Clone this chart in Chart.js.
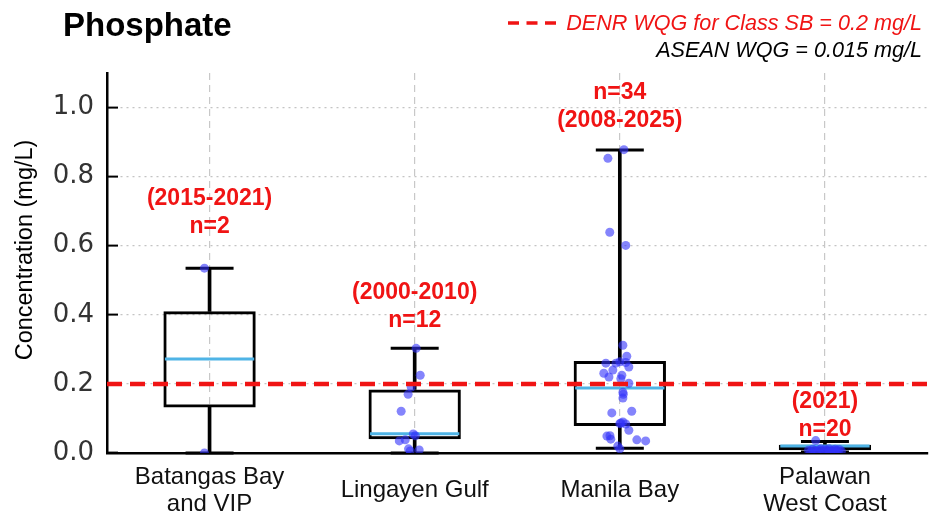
<!DOCTYPE html>
<html>
<head>
<meta charset="utf-8">
<script src="https://cdn.jsdelivr.net/npm/chart.js@4/dist/chart.umd.min.js"></script>
<style>
  html, body { margin: 0; padding: 0; background: #fff; }
  canvas { display: block; }
</style>
</head>
<body>
<canvas id="chart" width="932" height="517"></canvas>
<script>
// Sites along the x axis
const categories = [['Batangas Bay', 'and VIP'], 'Lingayen Gulf', 'Manila Bay', ['Palawan', 'West Coast']];

// Box statistics per site (mg/L)
const whiskerLow  = [0.000, 0.000, 0.014, 0.003];
const quartile1   = [0.132, 0.040, 0.078, 0.008];
const medians     = [0.272, 0.056, 0.188, 0.020];
const quartile3   = [0.410, 0.184, 0.266, 0.024];
const whiskerHigh = [0.535, 0.303, 0.877, 0.033];

// Individual observations per site and their horizontal jitter (fraction of a category)
const batangasValues = [0.535, 0.000];
const batangasJitter = [-0.025, -0.025];
const lingayenValues = [0.303, 0.225, 0.191, 0.170, 0.121, 0.055, 0.050, 0.038, 0.035, 0.012, 0.009, 0.006];
const lingayenJitter = [0.007, 0.027, -0.017, -0.032, -0.066, -0.007, 0.003, -0.046, -0.075, -0.030, 0.022, -0.022];
const manilaValues = [0.878, 0.853, 0.639, 0.601, 0.312, 0.280, 0.264, 0.260, 0.260, 0.262, 0.249, 0.240,
                      0.231, 0.225, 0.220, 0.215, 0.202, 0.176, 0.170, 0.159, 0.121, 0.116, 0.090, 0.087,
                      0.085, 0.084, 0.066, 0.050, 0.049, 0.040, 0.038, 0.035, 0.020, 0.012];
const manilaJitter = [0.020, -0.058, -0.049, 0.029, 0.015, 0.034, 0.000, -0.068, -0.019, 0.029, 0.044, -0.034,
                      -0.078, 0.010, -0.053, 0.005, 0.044, 0.015, 0.017, 0.015, 0.058, -0.039, 0.015, 0.005,
                      0.000, 0.029, 0.044, -0.048, -0.063, -0.044, 0.083, 0.126, -0.010, 0.000];
const palawanValues = [0.036, 0.012, 0.012, 0.011, 0.011, 0.010, 0.010, 0.009, 0.009, 0.008,
                       0.008, 0.007, 0.007, 0.006, 0.006, 0.005, 0.005, 0.004, 0.004, 0.003];
const palawanJitter = [-0.045, 0.020, -0.020, 0.050, -0.060, 0.000, 0.070, -0.030, 0.040, -0.080,
                       0.010, 0.060, -0.050, 0.030, -0.010, 0.080, -0.040, 0.020, 0.050, -0.070];

// Axis ticks and reference level
const yTicks = [0.0, 0.2, 0.4, 0.6, 0.8, 1.0];
const denrLimit = 0.2;

// Sample counts and sampling periods per site
const sampleCounts = ['n=2', 'n=12', 'n=34', 'n=20'];
const periods = ['(2015-2021)', '(2000-2010)', '(2008-2025)', '(2021)'];

const siteValues = [batangasValues, lingayenValues, manilaValues, palawanValues];
const siteJitter = [batangasJitter, lingayenJitter, manilaJitter, palawanJitter];
const observations = siteValues.flatMap((vals, i) => vals.map((v, k) => ({ x: i + siteJitter[i][k], y: v })));

const RED = '#f01414';
const CYAN = '#4fb4e6';

// Caps, medians, the DENR guideline and the text annotations
const boxPlotExtras = {
  id: 'boxPlotExtras',
  beforeDatasetDraw(chart, args) {
    if (args.index !== 0) return; // just before the observation dots
    const { ctx, scales: { x, y } } = chart;
    const boxMeta = chart.getDatasetMeta(1);
    ctx.save();
    ctx.lineCap = 'butt';
    // whisker caps
    ctx.strokeStyle = '#000';
    ctx.lineWidth = 3;
    categories.forEach((_, i) => {
      const cx = x.getPixelForValue(i);
      [whiskerLow[i], whiskerHigh[i]].forEach(v => {
        const py = y.getPixelForValue(v);
        ctx.beginPath();
        ctx.moveTo(cx - 24, py);
        ctx.lineTo(cx + 24, py);
        ctx.stroke();
      });
    });
    // medians
    ctx.strokeStyle = CYAN;
    ctx.lineWidth = 3;
    categories.forEach((_, i) => {
      const el = boxMeta.data[i];
      const half = el.width / 2 - 1.5;
      const cx = el.x;
      const py = y.getPixelForValue(medians[i]);
      ctx.beginPath();
      ctx.moveTo(cx - half, py);
      ctx.lineTo(cx + half, py);
      ctx.stroke();
    });
    ctx.restore();
  },
  afterDatasetsDraw(chart) {
    const { ctx, chartArea, scales: { x, y } } = chart;
    ctx.save();
    // DENR guideline
    const gy = y.getPixelForValue(denrLimit);
    ctx.strokeStyle = RED;
    ctx.lineWidth = 4.5;
    ctx.setLineDash([15, 8]);
    ctx.beginPath();
    ctx.moveTo(chartArea.left, gy);
    ctx.lineTo(chartArea.right, gy);
    ctx.stroke();
    ctx.setLineDash([]);

    // period / sample count notes above each box
    const noteLines = [
      [periods[0], sampleCounts[0]],
      [periods[1], sampleCounts[1]],
      [sampleCounts[2], periods[2]],
      [periods[3], sampleCounts[3]]
    ];
    const noteAt = [0.735, 0.463, 1.042, 0.148];
    ctx.fillStyle = RED;
    ctx.font = 'bold 23px "Liberation Sans", Arial, sans-serif';
    ctx.textAlign = 'center';
    ctx.textBaseline = 'middle';
    noteLines.forEach((lines, i) => {
      const cx = x.getPixelForValue(i);
      const top = y.getPixelForValue(noteAt[i]);
      lines.forEach((t, k) => ctx.fillText(t, cx, top + k * 27.5));
    });
    ctx.restore();
  },
  afterDraw(chart) {
    const { ctx } = chart;
    ctx.save();
    // title
    ctx.fillStyle = '#000';
    ctx.font = 'bold 33px "Liberation Sans", Arial, sans-serif';
    ctx.textAlign = 'left';
    ctx.textBaseline = 'alphabetic';
    ctx.fillText('Phosphate', 63, 36);

    // legend block
    ctx.strokeStyle = RED;
    ctx.lineWidth = 3.5;
    ctx.setLineDash([11, 7.5]);
    ctx.beginPath();
    ctx.moveTo(508, 23);
    ctx.lineTo(556, 23);
    ctx.stroke();
    ctx.setLineDash([]);

    ctx.textAlign = 'right';
    ctx.font = 'italic 21.6px "Liberation Sans", Arial, sans-serif';
    ctx.fillStyle = RED;
    ctx.fillText('DENR WQG for Class SB = 0.2 mg/L', 922, 30);
    ctx.fillStyle = '#000';
    ctx.fillText('ASEAN WQG = 0.015 mg/L', 922, 57);
    ctx.restore();
  }
};

Chart.defaults.font.family = '"Liberation Sans", Arial, sans-serif';

new Chart(document.getElementById('chart'), {
  type: 'bar',
  data: {
    labels: categories,
    datasets: [
      {
        type: 'scatter',
        label: 'Observations',
        data: observations,
        xAxisID: 'xj',
        yAxisID: 'y',
        backgroundColor: 'rgba(50,50,250,0.6)',
        borderWidth: 0,
        pointRadius: 4.5
      },
      {
        label: 'Interquartile range',
        data: quartile1.map((q, i) => [q, quartile3[i]]),
        backgroundColor: 'rgba(0,0,0,0)',
        borderColor: '#000',
        borderWidth: 3,
        borderSkipped: false,
        grouped: false,
        barPercentage: 0.45,
        categoryPercentage: 1
      },
      {
        label: 'Upper whisker',
        data: quartile3.map((q, i) => [q, whiskerHigh[i]]),
        backgroundColor: '#000',
        borderWidth: 0,
        barThickness: 3,
        grouped: false
      },
      {
        label: 'Lower whisker',
        data: whiskerLow.map((w, i) => [w, quartile1[i]]),
        backgroundColor: '#000',
        borderWidth: 0,
        barThickness: 3,
        grouped: false
      }
    ]
  },
  options: {
    responsive: false,
    animation: false,
    devicePixelRatio: 1,
    layout: { padding: { top: 73, right: 2, left: 0, bottom: 0 } },
    plugins: {
      legend: { display: false },
      tooltip: { enabled: false },
      title: { display: false }
    },
    scales: {
      x: {
        type: 'category',
        offset: true,
        afterFit: s => { s.height = 64; },
        grid: {
          offset: false,
          color: '#c8c8c8',
          lineWidth: 1.2,
          drawTicks: false
        },
        border: { display: true, color: '#000', width: 2.5, dash: [7, 5] },
        ticks: {
          color: '#111',
          font: { size: 24, lineHeight: 1.125 },
          padding: 24,
          maxRotation: 0,
          autoSkip: false,
          crossAlign: 'center'
        }
      },
      xj: {
        type: 'linear',
        display: false,
        offset: false,
        beginAtZero: false,
        min: -0.5,
        max: 3.5
      },
      y: {
        min: 0,
        max: 1.1,
        afterFit: s => { s.width = 107; },
        afterBuildTicks: s => { s.ticks = yTicks.map(v => ({ value: v })); },
        grid: {
          color: '#c4c4c4',
          lineWidth: 1.2,
          tickLength: -11,
          tickColor: '#000',
          tickWidth: 2
        },
        border: { display: true, color: '#000', width: 2.5, dash: [2, 4] },
        ticks: {
          color: '#333',
          font: { family: '"DejaVu Sans", sans-serif', size: 26 },
          padding: 24,
          callback: v => Number(v).toFixed(1)
        },
        title: {
          display: true,
          text: '    Concentration (mg/L)',
          color: '#000',
          font: { size: 23.5 },
          padding: { top: 11, bottom: 0 }
        }
      }
    }
  },
  plugins: [boxPlotExtras]
});
</script>
</body>
</html>
